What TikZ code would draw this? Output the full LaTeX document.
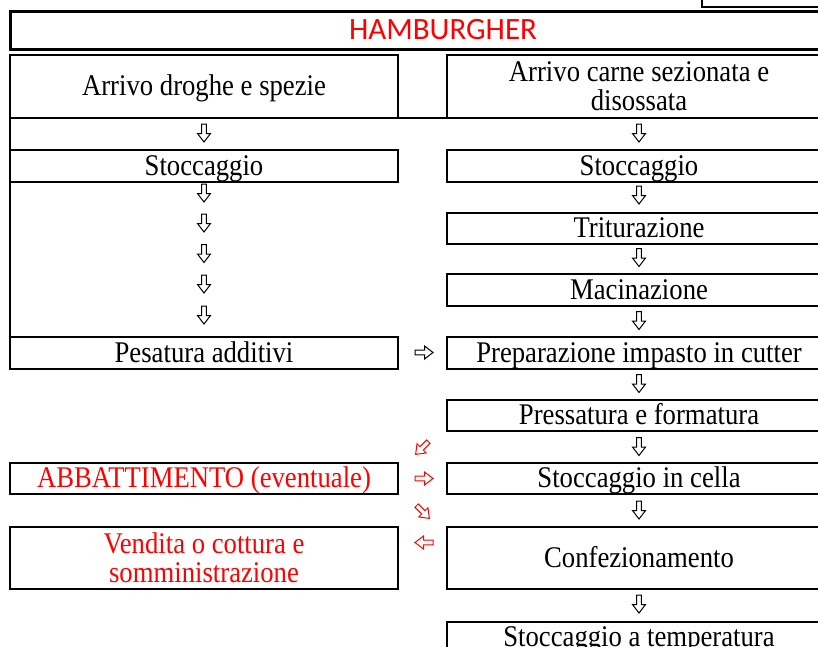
\documentclass[tikz,border=0pt]{standalone}
\usepackage{fontspec}
\setmainfont{Liberation Serif}
\newfontfamily\tfont[FakeStretch=0.89]{Liberation Serif}
\newfontfamily\calib{Carlito}
\usetikzlibrary{calc}
\definecolor{wred}{RGB}{255,0,0}
\begin{document}
\begin{tikzpicture}[x=1pt,y=-1pt,
  box/.style={draw, line width=1.1pt, inner sep=0pt, outer sep=0pt, align=center,
    font=\tfont\fontsize{30}{29}\selectfont},
  one/.style={text height=23pt, text depth=5pt},
  lbox/.style={box, minimum width=388pt},
  rbox/.style={box, minimum width=384pt},
  hbox/.style={lbox, line width=2.6pt, text=wred},
  txt/.style={inner sep=0pt, outer sep=0pt, align=center, font=\tfont\fontsize{30}{29}\selectfont},
  warr/.pic={\draw[pic actions, fill=white, line width=1pt]
     (-9,-2.4) -- (0.5,-2.4) -- (0.5,-6.5) -- (9,0) -- (0.5,6.5) -- (0.5,2.4) -- (-9,2.4) -- cycle;},
  darr/.style={rotate=-90},
]
\useasboundingbox (0,0) rectangle (818,646);
\clip (0,0) rectangle (818,646);

% top right box and title
\node[draw, line width=1.1pt, minimum width=140pt, minimum height=30pt, anchor=south west,
  inner sep=0pt, outer sep=0pt] (tr) at (702,7) {};
\node[draw, line width=3pt, minimum width=866pt, minimum height=38pt, inner sep=0pt,
  outer sep=0pt, text=wred, font=\calib\fontsize{31}{31}\selectfont] (ham) at (443,30) {HAMBURGHER};

% left column
\node[lbox, minimum height=63pt, one] (drog) at (204,86.5) {Arrivo droghe e spezie};
\node[lbox, minimum height=32pt, one] (stL) at (204,166) {Stoccaggio};
\node[lbox, minimum height=32pt, one] (pes) at (204,353) {Pesatura additivi};
\node[hbox, minimum height=31pt, one] (abb) at (204,478.5) {ABBATTIMENTO (eventuale)};
\node[hbox, minimum height=62pt] (ven) at (204,558) {Vendita o cottura e\\somministrazione};

% right column
\node[rbox, minimum height=63pt] (carne) at (639,86.5) {Arrivo carne sezionata e\\disossata};
\node[rbox, minimum height=32pt, one] (stR) at (639,166) {Stoccaggio};
\node[rbox, minimum height=31pt, one] (trit) at (639,228.5) {Triturazione};
\node[rbox, minimum height=32pt, one] (mac) at (639,290) {Macinazione};
\node[rbox, minimum height=32pt, one] (prep) at (639,353) {Preparazione impasto in cutter};
\node[rbox, minimum height=31pt, one] (press) at (639,415.5) {Pressatura e formatura};
\node[rbox, minimum height=31pt, one] (cella) at (639,478.5) {Stoccaggio in cella};
\node[rbox, minimum height=62pt, one] (conf) at (639,558) {Confezionamento};
\node[rbox, minimum height=60pt, anchor=north] (temp) at (639,622) {};
\node[txt, anchor=north] (tempt) at ($(temp.north)+(0,5)$) {Stoccaggio a temperatura};

% table rules
\draw[line width=1.8pt] (drog.north west) -- (pes.south west);
\draw[line width=1.1pt] (drog.south east) -- (carne.south west);

% left column arrows
\pic[darr] at (204,133) {warr};
\pic[darr] at (204,193) {warr};
\pic[darr] at (204,223) {warr};
\pic[darr] at (204,253.5) {warr};
\pic[darr] at (204,284) {warr};
\pic[darr] at (204,315) {warr};

% right column arrows
\pic[darr] at (639,133) {warr};
\pic[darr] at (639,195) {warr};
\pic[darr] at (639,257.5) {warr};
\pic[darr] at (639,320.5) {warr};
\pic[darr] at (639,383.5) {warr};
\pic[darr] at (639,446.5) {warr};
\pic[darr] at (639,510) {warr};
\pic[darr] at (639,604) {warr};

% middle arrows
\pic at (424,352.5) {warr};
\pic[wred, rotate=-135] at (422,448) {warr};
\pic[wred] at (424,478.5) {warr};
\pic[wred, rotate=-45] at (423,512) {warr};
\pic[wred, rotate=180] at (424,542.5) {warr};
\end{tikzpicture}
\end{document}
